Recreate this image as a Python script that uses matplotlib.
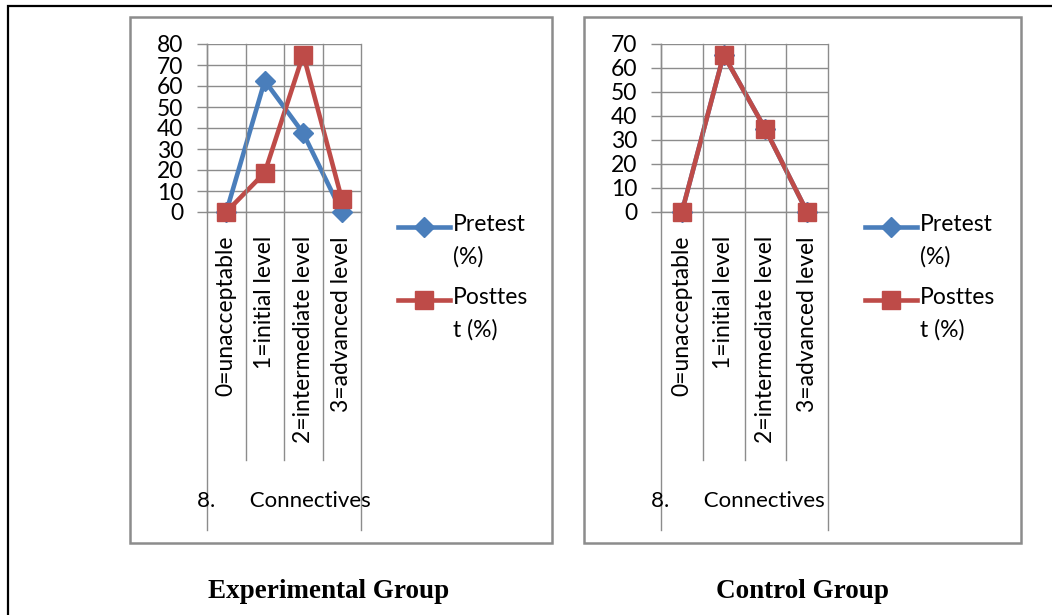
import matplotlib
matplotlib.use("Agg")
import matplotlib.pyplot as plt
from matplotlib.patches import Rectangle
from matplotlib.lines import Line2D

# Data
categories = ["0=unacceptable", "1=initial level", "2=intermediate level", "3=advanced level"]
exp_pretest = [0, 62.5, 37.5, 0]
exp_posttest = [0, 18.75, 75, 6.25]
ctl_pretest = [0, 65.5, 34.5, 0]
ctl_posttest = [0, 65.5, 34.5, 0]
exp_yticks = [0, 10, 20, 30, 40, 50, 60, 70, 80]
ctl_yticks = [0, 10, 20, 30, 40, 50, 60, 70]
group_label = "8.      Connectives"
series_names = ["Pretest\n(%)", "Posttes\nt (%)"]
titles = ["Experimental Group", "Control Group"]

W, H = 1052, 615
BLUE = "#4A7EBB"
RED = "#BE4B48"
GRID = "#8C8C8C"
FONT = "Lato"
DIAMOND_MS = 10.5
SQUARE_MS = 13
LINE_W = 3.3

fig = plt.figure(figsize=(W / 100, H / 100), dpi=100)


def px(x, y):
    """Pixel coordinates (origin top-left) -> figure fraction."""
    return x / W, 1 - y / H


def rect(x0, y0, x1, y1, color, lw):
    fig.add_artist(Rectangle(px(x0, y1), (x1 - x0) / W, (y1 - y0) / H,
                             transform=fig.transFigure, fill=False,
                             edgecolor=color, linewidth=lw))


def vline_fig(x, y0, y1, color, lw):
    fig.add_artist(Line2D([x / W, x / W], [1 - y0 / H, 1 - y1 / H],
                          transform=fig.transFigure, color=color, linewidth=lw))


# Outer page frame
rect(8, 6, 1100, 660, "black", 1.6)


def panel(box, plot, pre, post, yticks, title, title_x):
    bx0, by0, bx1, by1 = box
    rect(bx0, by0, bx1, by1, GRID, 1.8)

    x0, y_top, x1, y_bot = plot
    ax = fig.add_axes([x0 / W, 1 - y_bot / H, (x1 - x0) / W, (y_bot - y_top) / H])
    n = len(categories)
    xs = list(range(n))
    ax.set_xlim(-0.5, n - 0.5)
    ax.set_ylim(0, yticks[-1])
    ax.set_yticks(yticks)
    ax.set_yticklabels([str(v) for v in yticks], fontsize=16.5, family=FONT)
    ax.tick_params(axis="y", length=7, width=1, color=GRID, pad=10)
    ax.set_xticks([])
    for s in ["top", "right"]:
        ax.spines[s].set_visible(False)
    for s in ["left", "bottom"]:
        ax.spines[s].set_color(GRID)
        ax.spines[s].set_linewidth(1)
    ax.yaxis.grid(True, color=GRID, linewidth=1)
    ax.set_axisbelow(True)

    ax.plot(xs, pre, color=BLUE, linewidth=LINE_W, marker="D", markersize=DIAMOND_MS,
            markerfacecolor=BLUE, markeredgecolor=BLUE, clip_on=False, zorder=3)
    ax.plot(xs, post, color=RED, linewidth=LINE_W, marker="s", markersize=SQUARE_MS,
            markerfacecolor=RED, markeredgecolor=RED, clip_on=False, zorder=4)

    # category separators and multi-level axis lines
    step = (x1 - x0) / n
    for i in range(n + 1):
        xx = x0 + i * step
        bottom = 530 if i in (0, n) else 460
        vline_fig(xx, y_top, bottom, GRID, 1)
    for i, lab in enumerate(categories):
        cx = x0 + (i + 0.5) * step
        fig.text(*px(cx, 236), lab, rotation=90, ha="center", va="top",
                 fontsize=16.5, family=FONT)
    fig.text(*px(x0 - 10, 501), group_label, ha="left", va="center",
             fontsize=16, family=FONT)

    # legend
    lx0 = x1 + 37
    for yy, name, col, mk, ms in [(227, series_names[0], BLUE, "D", DIAMOND_MS),
                                  (300, series_names[1], RED, "s", SQUARE_MS)]:
        fig.add_artist(Line2D([lx0 / W, (lx0 + 52) / W], [1 - yy / H, 1 - yy / H],
                              transform=fig.transFigure, color=col, linewidth=LINE_W))
        fig.add_artist(Line2D([(lx0 + 26) / W], [1 - yy / H], transform=fig.transFigure,
                              marker=mk, markersize=ms, color=col, linestyle="none"))
        fig.text(*px(lx0 + 55, yy - 13), name, ha="left", va="top",
                 fontsize=16.5, family=FONT, linespacing=1.65)

    fig.text(*px(title_x, 591), title, ha="center", va="center", fontsize=19.5,
             fontweight="bold", family="Liberation Serif")
    return ax


panel((130, 17, 552, 543), (207, 44, 361, 212), exp_pretest, exp_posttest,
      exp_yticks, titles[0], 329)
panel((584, 17, 1021, 543), (661, 44, 828, 212), ctl_pretest, ctl_posttest,
      ctl_yticks, titles[1], 803)

fig.savefig("out.png", dpi=100)
